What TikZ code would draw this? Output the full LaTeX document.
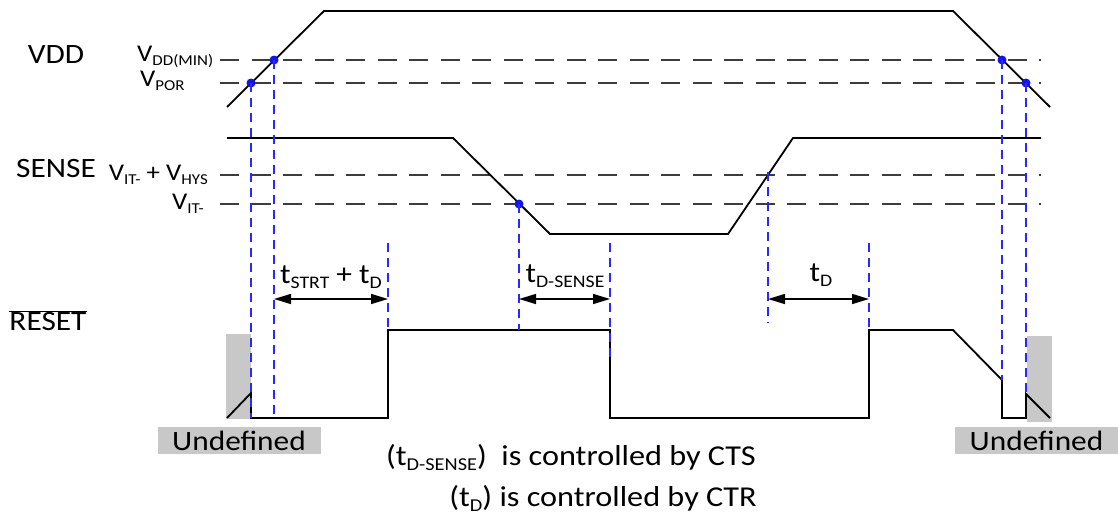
\documentclass[tikz,border=0pt]{standalone}
\usepackage{fontspec}
\setmainfont{Carlito}[FakeStretch=1.12]
\usetikzlibrary{arrows.meta}
\definecolor{undefgray}{RGB}{200,200,200}
\definecolor{dotblue}{RGB}{20,20,230}
\definecolor{guideblue}{RGB}{40,40,255}
\definecolor{levelgray}{RGB}{60,60,60}
\makeatletter
\newcommand{\sub}[1]{{\@tempdima=\f@size pt\@tempdima=0.63\@tempdima
	\raisebox{-0.18em}{\fontsize{\strip@pt\@tempdima}{0}\selectfont #1}}}
\makeatother

\begin{document}
\begin{tikzpicture}[x=1pt, y=-1pt]
		\tikzset{wave/.style={line width=1.8pt, line join=miter},
			level/.style={levelgray, line width=1.4pt, dash pattern=on 19pt off 12.5pt},
			guide/.style={guideblue, line width=1.4pt, dash pattern=on 9pt off 6pt},
			dot/.style={circle, fill=dotblue, inner sep=0pt, minimum size=9pt},
			span/.style={line width=1.4pt, {Triangle[length=17pt,width=10pt]}-{Triangle[length=17pt,width=10pt]}},
			big/.style={font=\fontsize{28}{34}\selectfont, inner sep=0pt},
			small/.style={font=\fontsize{24}{29}\selectfont, inner sep=0pt},
			note/.style={font=\fontsize{28.8}{35}\selectfont, inner sep=0pt, anchor=base east},
			undef/.style={big, fill=undefgray, minimum width=163pt, minimum height=27pt}};

		\useasboundingbox (0,0) rectangle (1118,514);

		% signal names
		\node[big] (vdd) at (56,55) {VDD};
		\node[big] (sense) at (56,169) {SENSE};
		\node[big] (reset) at (48,321) {$\overline{\mbox{RESET}}$};

		% threshold names
		\node[small, anchor=base west] (vmin) at (137,61) {V\sub{DD(MIN)}};
		\node[small, anchor=base west] (vpor) at (140,86) {V\sub{POR}};
		\node[small, anchor=base east] (vhys) at (208,180) {V\sub{IT-} + V\sub{HYS}};
		\node[small, anchor=base east] (vit) at (204,209) {V\sub{IT-}};

		% threshold levels
		\draw[level] (220,60) -- (1041,60);
		\draw[level] (220,83) -- (1041,83);
		\draw[level] (220,175) -- (1041,175);
		\draw[level] (220,204) -- (1041,204);

		% undefined areas
		\fill[undefgray] (226,334) rectangle (251,419);
		\fill[undefgray] (1027,336) rectangle (1052,422);
		\node[undef] (undef1) at (239,440.5) {Undefined};
		\node[undef] (undef2) at (1036.5,440.5) {Undefined};

		% waveforms
		\draw[wave] (227,107) -- (324,11) -- (953,11) -- (1050,107);
		\draw[wave] (227,138) -- (453,138) -- (550,234) -- (728,234) -- (793,138) -- (1041,138);
		\draw[wave] (227,418) -- (251,393) -- (251,418) -- (388,418) -- (388,330) -- (610,330)
			-- (610,418) -- (869,418) -- (869,330) -- (953,330) -- (1002,380) -- (1002,418)
			-- (1026,418) -- (1026,394) -- (1050,418);

		% crossing points
		\node[dot] (por1) at (251,83) {};
		\node[dot] (min1) at (274,60) {};
		\node[dot] (cross) at (519,204) {};
		\node[dot] (min2) at (1002,60) {};
		\node[dot] (por2) at (1026,83) {};

		\coordinate (por1b) at (251,418);
		\coordinate (min1b) at (274,418);
		\coordinate (strtt) at (388,243);
		\coordinate (strtb) at (388,330);
		\coordinate (crossb) at (519,330);
		\coordinate (senset) at (610,243);
		\coordinate (senseb) at (610,363);
		\coordinate (riset) at (768,172);
		\coordinate (riseb) at (768,323);
		\coordinate (tdt) at (869,243);
		\coordinate (tdb) at (869,330);
		\coordinate (min2b) at (1002,380);
		\coordinate (por2b) at (1026,394);

		\draw[guide] (por1.center) to (por1b);
		\draw[guide] (min1.center) to (min1b);
		\draw[guide] (strtt) to (strtb);
		\draw[guide] (cross.center) to (crossb);
		\draw[guide] (senset) to (senseb);
		\draw[guide] (riset) to (riseb);
		\draw[guide] (tdt) to (tdb);
		\draw[guide] (min2.center) to (min2b);
		\draw[guide] (por2.center) to (por2b);

		% delays
		\coordinate (s1) at (274,299);
		\coordinate (s2) at (388,299);
		\coordinate (s3) at (519,299);
		\coordinate (s4) at (610,299);
		\coordinate (s5) at (768,299);
		\coordinate (s6) at (869,299);

		\draw[span] (s1) to (s2);
		\draw[span] (s3) to (s4);
		\draw[span] (s5) to (s6);

		\node[big, anchor=base] (tstrt) at (331,283) {t\sub{STRT} + t\sub{D}};
		\node[big, anchor=base] (tsense) at (565,282) {t\sub{D-SENSE}};
		\node[big, anchor=base] (td) at (821,281) {t\sub{D}};

		% notes
		\node[note] (note1) at (756,465) {(t\sub{D-SENSE})\ \ is controlled by CTS};
		\node[note] (note2) at (757,506) {(t\sub{D}) is controlled by CTR};
	\end{tikzpicture}
\end{document}
